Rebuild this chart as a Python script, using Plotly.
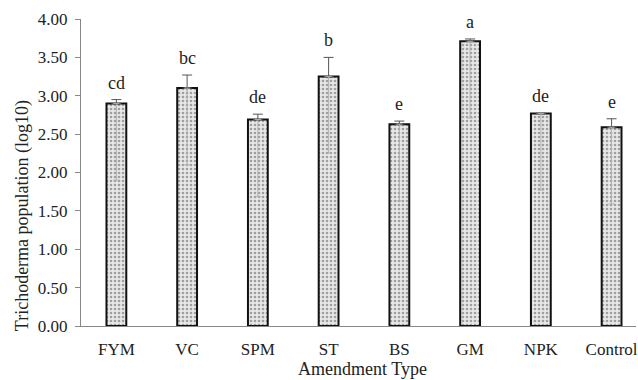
import plotly.graph_objects as go

categories = ["FYM", "VC", "SPM", "ST", "BS", "GM", "NPK", "Control"]
means = [2.90, 3.10, 2.69, 3.25, 2.63, 3.71, 2.77, 2.59]
errors = [0.05, 0.17, 0.07, 0.25, 0.04, 0.03, 0.00, 0.11]
inner_minus = [1.0, 1.0, 1.0, 1.0, 1.0, 1.0, 1.0, 1.0]
letters = ["cd", "bc", "de", "b", "e", "a", "de", "e"]

FONT = "Liberation Serif, Times New Roman, serif"

fig = go.Figure()
fig.add_trace(go.Bar(
    x=categories, y=means, width=0.28,
    marker=dict(
        color="#e4e4e4",
        line=dict(color="#111111", width=2),
        pattern=dict(shape=".", fgcolor="#555555", bgcolor="#e8e8e8", size=4, solidity=0.35),
    ),
    error_y=dict(type="data", symmetric=False, array=errors, arrayminus=[0]*len(errors),
                 color="#555555", thickness=1, width=5),
    showlegend=False,
))
fig.add_trace(go.Scatter(
    x=categories, y=means, mode="markers",
    marker=dict(opacity=0, size=1),
    error_y=dict(type="data", symmetric=False, array=[0]*len(means), arrayminus=inner_minus,
                 color="#b0b0b0", thickness=1, width=3),
    showlegend=False, hoverinfo="skip",
))
for c, m, e, t in zip(categories, means, errors, letters):
    fig.add_annotation(x=c, y=m + e, text=t, showarrow=False, yanchor="bottom", yshift=5,
                       font=dict(family=FONT, size=18, color="#222"))

PW = 638 - 81
PH = 326 - 19
fig.add_annotation(x=(364 - 81) / PW, xref="paper", y=-(369 - 326) / PH, yref="paper",
                   text="Amendment Type", showarrow=False, yanchor="middle", xanchor="center",
                   font=dict(family=FONT, size=18, color="#222"))
fig.add_annotation(x=-(81 - 22) / PW, xref="paper", y=(326 - 188) / PH, yref="paper",
                   yshift=-28,
                   text="Trichoderma population (log10)", showarrow=False, textangle=-90,
                   xanchor="center", yanchor="middle",
                   font=dict(family=FONT, size=18, color="#222"))

fig.update_layout(
    width=638, height=380,
    margin=dict(l=81, r=0, t=19, b=54),
    paper_bgcolor="white", plot_bgcolor="white",
    font=dict(family=FONT, size=17, color="#222"),
    xaxis=dict(range=[-0.5, 7.345], showline=True, linecolor="#888", linewidth=1,
               ticks="", tickfont=dict(size=17), showgrid=False, ticklabelstandoff=8),
    yaxis=dict(range=[0, 4], dtick=0.5, tickformat=".2f", showline=True, linecolor="#888",
               linewidth=1, ticks="outside", ticklen=5, tickcolor="#888", showgrid=False,
               zeroline=False, tickfont=dict(size=17), ticklabelstandoff=4),
)

fig.write_html("out.html")
